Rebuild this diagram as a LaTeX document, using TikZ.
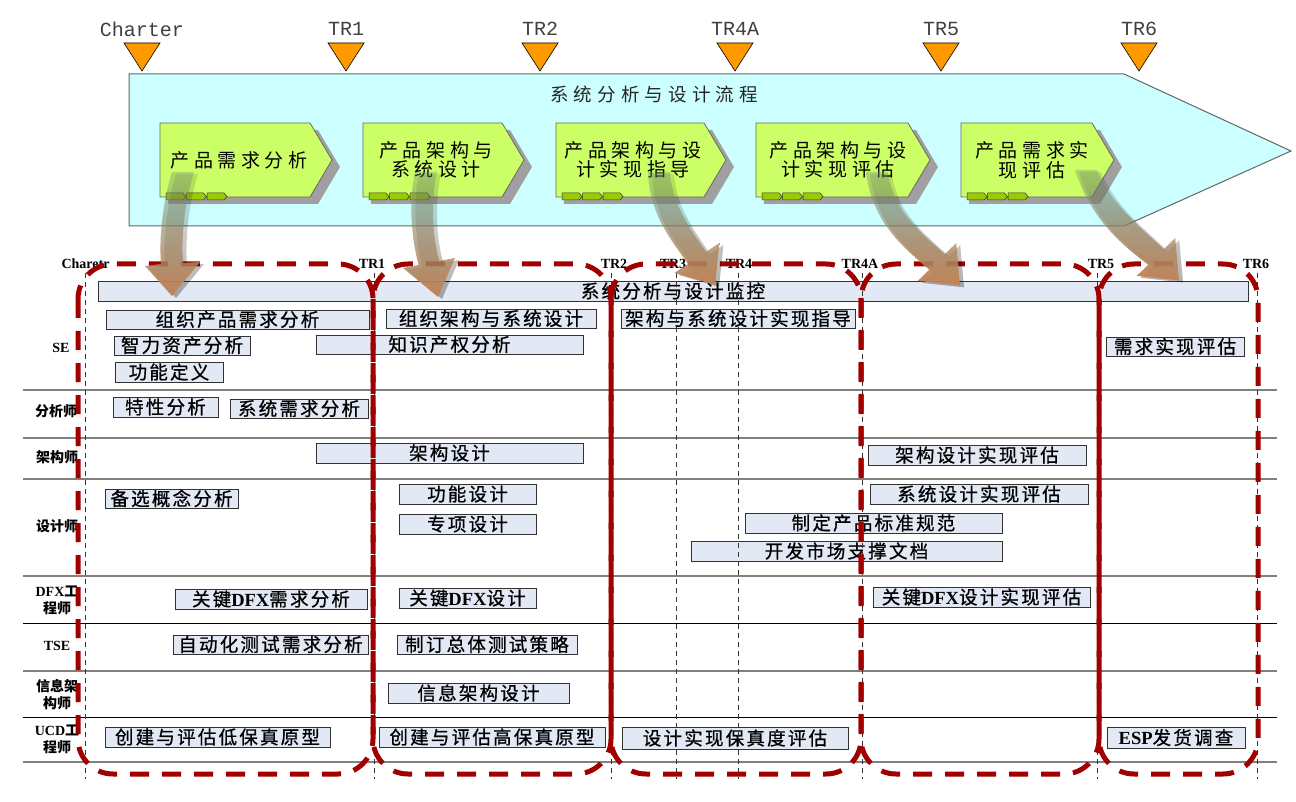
\documentclass[tikz,border=0pt]{standalone}
\usepackage{fontspec}
\setmainfont{Liberation Serif}
\newfontfamily\cjk{Noto Sans CJK SC}
\newfontfamily\cjkbar[LetterSpace=12,FakeBold=0.8]{Noto Sans CJK SC}
\newfontfamily\cjkchev[LetterSpace=24]{Noto Sans CJK SC}
\newfontfamily\cjktitle[LetterSpace=28]{Noto Sans CJK SC}
\newfontfamily\monof{Liberation Mono}
\newfontfamily\serifb{Liberation Serif}
\usetikzlibrary{fadings}
\definecolor{arrowcyan}{RGB}{204,255,255}
\definecolor{chevgreen}{RGB}{204,255,102}
\definecolor{tabgreen}{RGB}{153,204,0}
\definecolor{shadowgray}{RGB}{160,160,160}
\definecolor{mileorange}{RGB}{255,153,0}
\definecolor{barfill}{RGB}{226,233,245}
\definecolor{dred}{RGB}{160,0,0}
\definecolor{rowgray}{RGB}{128,128,128}
\definecolor{arrtop}{RGB}{110,140,115}
\definecolor{arrbot}{RGB}{196,132,88}
\tikzfading[name=arrowfade, top color=transparent!65, bottom color=transparent!0]
\newcommand{\zhb}[1]{{\cjk\bfseries #1}}
\newcommand{\enb}[1]{{\serifb\bfseries #1}}
\newcommand{\tbar}[6]{%
  \pgfmathsetmacro{\tby}{(#3+#5)/2}%
  \pgfmathsetmacro{\tbw}{#4-#2}\pgfmathsetmacro{\tbh}{#5-#3}%
  \node[taskbar, minimum width=\tbw pt, minimum height=\tbh pt] (#1) at ({(#2+#4)/2},\tby) {#6};}
\newcommand{\chev}[5]{%
  \fill[shadowgray] (#2+8,130) -- (#3-14,130) -- (#3+8,167) -- (#3-14,204) -- (#2+8,204) -- cycle;
  \draw[chevline, fill=chevgreen] (#2,123) -- (#3-22,123) -- (#3,160) -- (#3-22,197) -- (#2,197) -- cycle;
  \foreach \k in {0,1,2} {\draw[tabstyle] ({#2+6+20.5*\k},193) -- ++(17,0) -- ++(3,3.5) -- ++(-3,3.5) -- ++(-17,0) -- cycle;}
  \node[chevtext] (#1) at (#4,160) {#5};}
\newcommand{\fatarrow}[1]{%
  \fill[black, opacity=0.3, shift={(4,2)}, path fading=arrowfade] #1;
  \shade[top color=arrtop, bottom color=arrbot, path fading=arrowfade] #1;}
\begin{document}
\begin{tikzpicture}[x=1pt,y=-1pt,
  ms/.style={draw=black, line width=0.6pt, fill=mileorange},
  mslabel/.style={font=\monof\fontsize{20}{20}\selectfont, text=black!75, inner sep=0},
  tlabel/.style={font=\serifb\bfseries\fontsize{14}{14}\selectfont, inner sep=0},
  rowlabel/.style={font=\fontsize{14}{17}\selectfont, align=center, inner sep=0},
  taskbar/.style={draw=black!80, line width=0.8pt, fill=barfill, inner sep=0, font=\cjkbar\fontsize{18.5}{18.5}\selectfont},
  chevline/.style={draw=black!60, line width=0.8pt},
  tabstyle/.style={draw=black!80, line width=0.5pt, fill=tabgreen},
  chevtext/.style={font=\cjkchev\fontsize{19}{19.5}\selectfont, align=center, inner sep=0},
  rowline/.style={draw=rowgray, line width=1.8pt},
  blackline/.style={draw=black, line width=0.9pt},
  vdash/.style={draw=black!80, line width=0.6pt, dash pattern=on 5pt off 4pt},
  phase/.style={draw=dred, line width=5pt, dash pattern=on 19pt off 13pt, rounded corners=35pt}]
\useasboundingbox (0,0) rectangle (1296,802);
\fill[white] (0,0) rectangle (1296,802);

% ---------- table grid ----------
\foreach \y in {390,438,479,576,671,762} {\draw[rowline] (23,\y) -- (1277,\y);}
\foreach \y in {623,717} {\draw[blackline] (23,\y) -- (1277,\y);}

% milestone labels of the table
\node[tlabel] (lc)  at (85.5,264) {Charetr};
\node[tlabel] (l1)  at (372,264) {TR1};
\node[tlabel] (l2)  at (614,264) {TR2};
\node[tlabel] (l3)  at (673,264) {TR3};
\node[tlabel] (l4)  at (739,264) {TR4};
\node[tlabel] (l4a) at (860,264) {TR4A};
\node[tlabel] (l5)  at (1101,264) {TR5};
\node[tlabel] (l6)  at (1256,264) {TR6};

% row labels
\node[rowlabel] (rse)  at (61,348) {\enb{SE}};
\node[rowlabel] (ran)  at (56,411) {\zhb{分析师}};
\node[rowlabel] (rar)  at (57,457) {\zhb{架构师}};
\node[rowlabel] (rde)  at (57,526) {\zhb{设计师}};
\node[rowlabel] (rdfx) at (57,600) {\enb{DFX}\zhb{工}\\\zhb{程师}};
\node[rowlabel] (rtse) at (57,646) {\enb{TSE}};
\node[rowlabel] (rinf) at (57,695) {\zhb{信息架}\\\zhb{构师}};
\node[rowlabel] (rucd) at (57,739) {\enb{UCD}\zhb{工}\\\zhb{程师}};

% task bars
\tbar{sup}{98}{281}{1248}{301}{系统分析与设计监控}
\tbar{b1}{106}{310}{369}{329}{组织产品需求分析}
\tbar{b2}{386}{309}{596}{328}{组织架构与系统设计}
\tbar{b3}{621}{309}{855}{328}{架构与系统设计实现指导}
\tbar{b4}{114}{336}{250}{355}{智力资产分析}
\tbar{b5}{316}{335}{583}{354}{知识产权分析}
\tbar{b6}{115}{362}{223}{382}{功能定义}
\tbar{b7}{1106}{337}{1244}{356}{需求实现评估}
\tbar{b8}{113}{397}{218}{417}{特性分析}
\tbar{b9}{230}{399}{368}{418}{系统需求分析}
\tbar{b10}{316}{443}{583}{463}{架构设计}
\tbar{b11}{868}{445}{1086}{465}{架构设计实现评估}
\tbar{b12}{105}{489}{238}{508}{备选概念分析}
\tbar{b13}{399}{484}{536}{504}{功能设计}
\tbar{b14}{399}{514}{536}{534}{专项设计}
\tbar{b15}{870}{484}{1088}{504}{系统设计实现评估}
\tbar{b16}{745}{513}{1002}{533}{制定产品标准规范}
\tbar{b17}{691}{541}{1002}{561}{开发市场支撑文档}
\tbar{b18}{175}{589}{367}{609}{关键{\serifb\bfseries DFX}需求分析}
\tbar{b19}{399}{588}{536}{608}{关键{\serifb\bfseries DFX}设计}
\tbar{b20}{873}{587}{1090}{607}{关键{\serifb\bfseries DFX}设计实现评估}
\tbar{b21}{173}{635}{368}{654}{自动化测试需求分析}
\tbar{b22}{397}{635}{577}{654}{制订总体测试策略}
\tbar{b23}{388}{683}{569}{703}{信息架构设计}
\tbar{b24}{105}{727}{330}{747}{创建与评估低保真原型}
\tbar{b25}{379}{727}{605}{747}{创建与评估高保真原型}
\tbar{b26}{622}{727}{848}{749}{设计实现保真度评估}
\tbar{b27}{1107}{727}{1245}{748}{{\serifb\bfseries ESP}发货调查}

% vertical milestone lines
\foreach \x in {85,374,611,676,738,862,1097,1257} {\draw[vdash] (\x,273) -- (\x,779);}

% phase boxes
\draw[phase] (78,264) rectangle (373,774);
\draw[phase] (373,264) rectangle (611,774);
\draw[phase] (611,264) rectangle (861,774);
\draw[phase] (861,264) rectangle (1099,774);
\draw[phase] (1099,264) rectangle (1258,774);

% ---------- top process ----------
\foreach \x/\n/\t in {142/mc/Charter,346/m1/TR1,540/m2/TR2,735/m4a/TR4A,941/m5/TR5,1139/m6/TR6} {
  \draw[ms] (\x-18,43) -- (\x+18,43) -- (\x,71) -- cycle;
  \node[mslabel] (\n) at (\x,29) {\t};
}
\draw[draw=black!60, line width=1pt, fill=arrowcyan] (129,74) -- (1124,74) -- (1291,151) -- (1124,226) -- (129,226) -- cycle;
\node[font=\cjktitle\fontsize{18.5}{18.5}\selectfont, inner sep=0, text=black!85] (title) at (654,94) {系统分析与设计流程};

\chev{c1}{160}{332}{239}{产品需求分析}
\chev{c2}{363}{524}{436}{产品架构与\\系统设计}
\chev{c3}{556}{726}{633}{产品架构与设\\计实现指导}
\chev{c4}{756}{930}{838}{产品架构与设\\计实现评估}
\chev{c5}{961}{1114}{1032}{产品需求实\\现评估}

% ---------- curved arrows ----------
\fatarrow{(172,172) .. controls (162,205) and (159,240) .. (161,264) -- (145,266) -- (172,296) -- (200,262) -- (183,263) .. controls (181,240) and (184,205) .. (194,172) -- cycle}
\fatarrow{(415,172) .. controls (408,205) and (412,240) .. (418.6,265) -- (403,268) -- (438,297) -- (455,258) -- (439.4,261) .. controls (433,240) and (430,205) .. (437,172) -- cycle}
\fatarrow{(648,172) .. controls (650,215) and (670,238) .. (688,264) -- (674.6,272.9) -- (715,285) -- (719.4,243.1) -- (706,252) .. controls (690,228) and (672,205) .. (670,172) -- cycle}
\fatarrow{(866,172) .. controls (872,220) and (900,245) .. (929.2,269.7) -- (917.8,280.9) -- (960,285.4) -- (956.2,243.1) -- (944.8,254.3) .. controls (918,230) and (893,210) .. (888,172) -- cycle}
\fatarrow{(1075,170) .. controls (1090,215) and (1115,240) .. (1148.2,264.7) -- (1136.8,275.9) -- (1179,280.4) -- (1175.2,238.1) -- (1163.8,249.3) .. controls (1138,225) and (1112,205) .. (1097,170) -- cycle}
\end{tikzpicture}
\end{document}
